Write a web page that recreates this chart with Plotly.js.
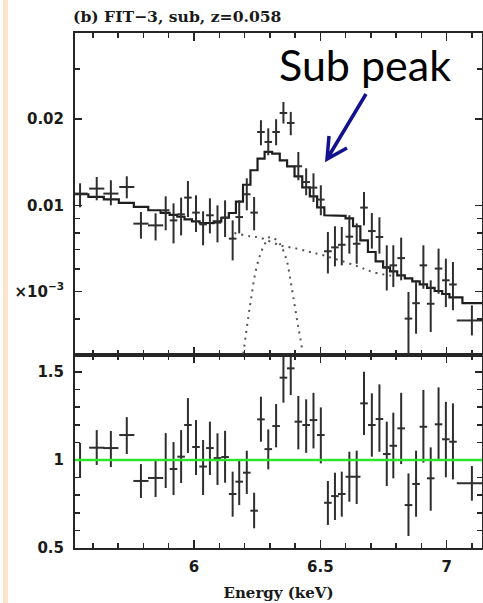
<!DOCTYPE html>
<html>
<head>
<meta charset="utf-8">
<script src="https://cdn.plot.ly/plotly-3.0.1.min.js"></script>
<style>
  html, body { margin: 0; padding: 0; background: #ffffff; }
  #chart { width: 483px; height: 603px; }
</style>
</head>
<body>
<div id="chart"></div>
<script>
// Spectral bins: centre energy (keV) and half bin width (keV)
const energy = [5.549, 5.615, 5.671, 5.734, 5.790, 5.848, 5.888, 5.919, 5.949, 5.976,
                6.008, 6.036, 6.063, 6.093, 6.123, 6.153, 6.179, 6.209, 6.238, 6.265,
                6.294, 6.325, 6.354, 6.383, 6.413, 6.444, 6.473, 6.502, 6.530, 6.558,
                6.585, 6.615, 6.644, 6.673, 6.704, 6.734, 6.763, 6.789, 6.820, 6.849,
                6.879, 6.908, 6.937, 6.968, 6.997, 7.025, 7.100];
const halfWidth = [0.03, 0.03, 0.03, 0.03, 0.03, 0.03, 0.015, 0.015, 0.015, 0.015,
                   0.015, 0.015, 0.015, 0.015, 0.015, 0.015, 0.015, 0.015, 0.015, 0.015,
                   0.015, 0.015, 0.015, 0.015, 0.015, 0.015, 0.015, 0.015, 0.015, 0.015,
                   0.015, 0.015, 0.015, 0.015, 0.015, 0.015, 0.015, 0.015, 0.015, 0.015,
                   0.015, 0.015, 0.015, 0.015, 0.015, 0.015, 0.06];

// Observed spectrum (counts/s/keV) with lower / upper error limits
const flux = [0.01099, 0.01144, 0.01099, 0.01159, 0.00863, 0.00851, 0.00961, 0.00886, 0.00930, 0.01064,
              0.00943, 0.00858, 0.00923, 0.00870, 0.00906, 0.00765, 0.00910, 0.01093, 0.00943, 0.01804,
              0.01665, 0.01804, 0.02102, 0.01940, 0.01369, 0.01206, 0.01153, 0.01047, 0.00691, 0.00713,
              0.00728, 0.00777, 0.00734, 0.00982, 0.00813, 0.00775, 0.00606, 0.00617, 0.00654, 0.00402,
              0.00455, 0.00617, 0.00453, 0.00601, 0.00547, 0.00529, 0.00396];
const fluxLo = [0.00984, 0.01041, 0.01000, 0.01058, 0.00765, 0.00754, 0.00818, 0.00736, 0.00785, 0.00910,
                0.00807, 0.00725, 0.00798, 0.00742, 0.00775, 0.00642, 0.00798, 0.00961, 0.00818, 0.01621,
                0.01496, 0.01621, 0.01931, 0.01757, 0.01223, 0.01084, 0.01027, 0.00923, 0.00578, 0.00612,
                0.00617, 0.00678, 0.00625, 0.00851, 0.00706, 0.00678, 0.00504, 0.00518, 0.00547, 0.00303,
                0.00356, 0.00511, 0.00361, 0.00491, 0.00441, 0.00430, 0.00351];
const fluxHi = [0.01194, 0.01256, 0.01223, 0.01263, 0.00948, 0.00938, 0.01075, 0.01016, 0.01064, 0.01216,
                0.01084, 0.00953, 0.01058, 0.01000, 0.01041, 0.00886, 0.01041, 0.01243, 0.01069, 0.01983,
                0.01858, 0.01999, 0.02297, 0.02120, 0.01536, 0.01347, 0.01294, 0.01175, 0.00807, 0.00845,
                0.00840, 0.00923, 0.00865, 0.01113, 0.00940, 0.00908, 0.00725, 0.00725, 0.00771, 0.00498,
                0.00547, 0.00725, 0.00547, 0.00706, 0.00651, 0.00634, 0.00447];

// Folded model, one value per bin
const model = [0.01093, 0.01071, 0.01049, 0.01020, 0.00988, 0.00961, 0.00941, 0.00926, 0.00912, 0.00893,
               0.00879, 0.00869, 0.00867, 0.00879, 0.00905, 0.00940, 0.01030, 0.01180, 0.01326, 0.01457,
               0.01536, 0.01516, 0.01436, 0.01369, 0.01263, 0.01156, 0.01075, 0.00984, 0.00923, 0.00923,
               0.00919, 0.00901, 0.00845, 0.00754, 0.00687, 0.00637, 0.00607, 0.00588, 0.00569, 0.00556,
               0.00542, 0.00529, 0.00515, 0.00502, 0.00490, 0.00477, 0.00455];

// Model components (dotted): continuum and Fe line
const contEnergy = [6.160, 6.169, 6.222, 6.261, 6.341, 6.407, 6.459, 6.499, 6.644, 6.710, 6.796];
const contFlux   = [0.00800, 0.00797, 0.00779, 0.00771, 0.00725, 0.00706, 0.00687, 0.00674, 0.00614, 0.00584, 0.00565];
const lineEnergy = [6.195, 6.215, 6.229, 6.242, 6.261, 6.281, 6.301, 6.328, 6.347, 6.367, 6.380, 6.393, 6.413, 6.427];
const lineFlux   = [0.00303, 0.00407, 0.00491, 0.00577, 0.00668, 0.00735, 0.00775, 0.00754, 0.00715, 0.00642,
                    0.00561, 0.00478, 0.00375, 0.00319];

// Data / model ratio with lower / upper limits
const ratio = [1.000, 1.070, 1.068, 1.142, 0.881, 0.898, 1.000, 0.949, 1.019, 1.199,
               1.074, 0.963, 1.068, 1.011, 1.017, 0.807, 0.877, 0.928, 0.712, 1.231,
               1.062, 1.193, 1.468, 1.521, 1.218, 1.199, 1.227, 1.142, 0.757, 0.795,
               0.807, 0.905, 0.905, 1.322, 1.199, 1.233, 1.034, 1.081, 1.180, 0.744,
               0.864, 1.189, 0.896, 1.203, 1.118, 1.104, 0.868];
const ratioLo = [0.898, 0.972, 0.960, 1.034, 0.784, 0.790, 0.841, 0.801, 0.869, 1.040,
                 0.915, 0.801, 0.915, 0.858, 0.871, 0.678, 0.744, 0.807, 0.612, 1.104,
                 0.947, 1.072, 1.326, 1.369, 1.061, 1.041, 1.066, 0.981, 0.631, 0.659,
                 0.678, 0.763, 0.750, 1.142, 1.019, 1.047, 0.852, 0.896, 0.977, 0.568,
                 0.678, 0.985, 0.712, 1.000, 0.902, 0.890, 0.769];
const ratioHi = [1.097, 1.170, 1.165, 1.244, 0.977, 1.000, 1.153, 1.102, 1.170, 1.352,
                 1.227, 1.114, 1.218, 1.152, 1.166, 0.934, 1.000, 1.053, 0.814, 1.360,
                 1.174, 1.318, 1.587, 1.620, 1.364, 1.345, 1.382, 1.299, 0.881, 0.928,
                 0.934, 1.047, 1.053, 1.502, 1.379, 1.430, 1.218, 1.269, 1.382, 0.924,
                 1.053, 1.398, 1.072, 1.413, 1.331, 1.322, 0.966];
const unityLevel = 1;

// Tick labels
const xTickVals = [6, 6.5, 7];
const xTickText = ['6', '6.5', '7'];
const fluxTickVals = [0.005, 0.01, 0.02];
const fluxTickText = ['×10<sup>−3</sup>', '0.01', '0.02'];
const fluxMinorVals = [0.003, 0.004, 0.006, 0.007, 0.008, 0.009, 0.03, 0.04];
const ratioTickVals = [0.5, 1, 1.5];
const ratioTickText = ['0.5', '1', '1.5'];

// Build the model histogram: flat across each bin, edges between neighbouring centres
const stepX = [], stepY = [];
for (let i = 0; i < energy.length; i++) {
  const lo = i === 0 ? energy[i] - halfWidth[i] : (energy[i - 1] + energy[i]) / 2;
  const hi = i === energy.length - 1 ? energy[i] + halfWidth[i] : (energy[i] + energy[i + 1]) / 2;
  stepX.push(lo, hi);
  stepY.push(model[i], model[i]);
}

const ink = '#262626';
const barColor = '#2e2e2e';

const traces = [
  { x: contEnergy, y: contFlux, xaxis: 'x2', yaxis: 'y2', mode: 'lines',
    line: { color: '#555555', width: 2, dash: '2px,5px', shape: 'spline' }, hoverinfo: 'skip' },
  { x: lineEnergy, y: lineFlux, xaxis: 'x2', yaxis: 'y2', mode: 'lines',
    line: { color: '#555555', width: 2, dash: '2px,5px', shape: 'spline' }, hoverinfo: 'skip' },
  { x: stepX, y: stepY, xaxis: 'x2', yaxis: 'y2', mode: 'lines',
    line: { color: '#1e1e1e', width: 2.2 }, hoverinfo: 'skip' },
  { x: energy, y: flux, xaxis: 'x2', yaxis: 'y2', mode: 'markers',
    marker: { size: 1, color: barColor, opacity: 0 },
    error_x: { type: 'data', array: halfWidth, color: barColor, thickness: 2, width: 0 },
    error_y: { type: 'data', symmetric: false,
               array: flux.map((v, i) => fluxHi[i] - v),
               arrayminus: flux.map((v, i) => v - fluxLo[i]),
               color: barColor, thickness: 2, width: 0 } },
  { x: energy, y: ratio, xaxis: 'x', yaxis: 'y', mode: 'markers',
    marker: { size: 1, color: barColor, opacity: 0 },
    error_x: { type: 'data', array: halfWidth, color: barColor, thickness: 2, width: 0 },
    error_y: { type: 'data', symmetric: false,
               array: ratio.map((v, i) => ratioHi[i] - v),
               arrayminus: ratio.map((v, i) => v - ratioLo[i]),
               color: barColor, thickness: 2, width: 0 } }
];

const tickFont = { family: 'DejaVu Sans', size: 15, color: '#1a1a1a', weight: 'bold' };
const serifBold = { family: 'DejaVu Serif', size: 15, color: '#1a1a1a', weight: 'bold' };

const frame = {
  showline: true, linewidth: 2, linecolor: ink, mirror: 'ticks',
  ticks: 'inside', tickwidth: 1.5, tickcolor: ink,
  showgrid: false, zeroline: false, fixedrange: true
};

const xCommon = Object.assign({}, frame, {
  range: [5.529, 7.14],
  tickmode: 'array', tickvals: xTickVals, ticktext: xTickText, ticklen: 8,
  minor: { tickmode: 'linear', tick0: 5.5, dtick: 0.1, ticks: 'inside', ticklen: 5, tickwidth: 1.5, tickcolor: ink }
});

const splitAt = 0.3748;

const layout = {
  width: 483, height: 603,
  margin: { l: 75, r: 1, t: 33, b: 55 },
  paper_bgcolor: '#ffffff', plot_bgcolor: '#ffffff',
  showlegend: false,
  title: { text: '(b) FIT−3, sub, z=0.058',
           font: { family: 'DejaVu Serif', size: 15.6, color: '#1a1a1a', weight: 'bold' },
           xref: 'container', x: 73 / 483, xanchor: 'left',
           yref: 'container', y: 1 - 17 / 603, yanchor: 'middle' },
  xaxis: Object.assign({}, xCommon, {
    domain: [0, 1], anchor: 'y', tickfont: tickFont, ticklabelstandoff: 4,
    title: { text: 'Energy (keV)', font: serifBold, standoff: 12 }
  }),
  xaxis2: Object.assign({}, xCommon, {
    domain: [0, 1], anchor: 'y2', matches: 'x', showticklabels: false
  }),
  yaxis: Object.assign({}, frame, {
    domain: [0, splitAt], anchor: 'x', range: [0.5, 1.597],
    tickmode: 'array', tickvals: ratioTickVals, ticktext: ratioTickText, ticklen: 7,
    tickfont: tickFont, ticklabelstandoff: 6,
    minor: { tickmode: 'linear', tick0: 0.5, dtick: 0.1, ticks: 'inside', ticklen: 5, tickwidth: 1.5, tickcolor: ink }
  }),
  yaxis2: Object.assign({}, frame, {
    domain: [splitAt, 1], anchor: 'x2', type: 'log',
    range: [Math.log10(0.003), Math.log10(0.04)],
    tickmode: 'array', tickvals: fluxTickVals, ticktext: fluxTickText, ticklen: 7,
    tickfont: tickFont, ticklabelstandoff: 6,
    minor: { tickmode: 'array', tickvals: fluxMinorVals, ticks: 'inside', ticklen: 5, tickwidth: 1.5, tickcolor: ink }
  }),
  shapes: [
    // tinted strip at the left edge of the slide
    { type: 'rect', xref: 'paper', yref: 'paper', x0: -0.1769, x1: -0.1646, y0: -0.11, y1: 1.07,
      fillcolor: '#fde4cd', line: { width: 0 }, layer: 'below' },
    // unity reference in the ratio panel
    { type: 'line', xref: 'paper', x0: 0, x1: 1, yref: 'y', y0: unityLevel, y1: unityLevel,
      line: { color: '#2fe62f', width: 2.5 }, layer: 'above' },
    // pointer to the sub peak
    { type: 'path', xref: 'paper', yref: 'paper',
      path: 'M 0.7150 0.8816 L 0.6192 0.7553 M 0.6241 0.8000 L 0.6192 0.7553 L 0.6683 0.7767',
      line: { color: '#12128e', width: 3.5 }, layer: 'above' }
  ],
  annotations: [
    { text: 'Sub peak', xref: 'paper', yref: 'paper', x: 0.4963, y: 0.9398,
      xanchor: 'left', yanchor: 'middle', showarrow: false,
      font: { family: 'Lato', size: 43, color: '#000000' } }
  ]
};

Plotly.newPlot('chart', traces, layout, { staticPlot: true, displayModeBar: false });
</script>
</body>
</html>
